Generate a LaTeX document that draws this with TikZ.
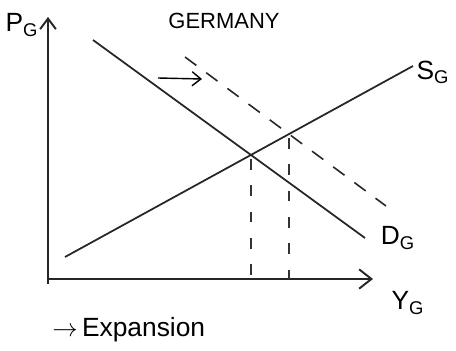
\documentclass[tikz,border=0pt]{standalone}
\usepackage{fontspec}
\setmainfont{Liberation Sans}
\usetikzlibrary{arrows.meta, positioning, calc}

\begin{document}
\begin{tikzpicture}[
            x=0.02cm, y=-0.02cm,
            curve/.style={line width=1pt, color=black!85},
            shifted/.style={line width=0.9pt, color=black!85, dash pattern=on 8pt off 7pt},
            guide/.style={line width=0.8pt, color=black!80, dash pattern=on 6pt off 9pt},
            axis/.style={line width=1.1pt, color=black!85},
            lbl/.style={font=\fontsize{15}{15}\selectfont, inner sep=0pt}
        ]
        \useasboundingbox (0,0) rectangle (456,351);
        % axes
        \coordinate (origin) at (48,279);
        \coordinate (ytop) at (48,17);
        \coordinate (xend) at (373,279);
        \draw [axis, -{Straight Barb[length=6pt, width=9pt]}] (48,284) -- (ytop);
        \draw [axis, -{Straight Barb[length=7pt, width=11pt]}] (origin) -- (xend);
        % supply and demand
        \coordinate (s0) at (65,257);
        \coordinate (s1) at (413,66);
        \coordinate (d0) at (93,40);
        \coordinate (d1) at (365,238);
        \coordinate (n0) at (185,57);
        \coordinate (n1) at (386,206);
        \draw [curve] (s0) -- (s1);
        \draw [curve] (d0) -- (d1);
        \draw [shifted] (n0) -- (n1);
        \coordinate (eq0) at (intersection of s0--s1 and d0--d1);
        \coordinate (eq1) at (intersection of s0--s1 and n0--n1);
        \draw [guide] ($(eq0)+(0,4)$) -- (eq0 |- origin);
        \draw [guide] ($(eq1)+(0,4)$) -- (eq1 |- origin);
        % labels
        \node [lbl] (pg) at (22,25) {P\textsubscript{G}};
        \node [lbl] (sg) at (433,72) {S\textsubscript{G}};
        \node [lbl] (dg) at (398,238) {D\textsubscript{G}};
        \node [lbl] (yg) at (408,303) {Y\textsubscript{G}};
        \node [font=\fontsize{12.5}{12.5}\selectfont, inner sep=0pt] (title) at (224,21) {GERMANY};
        \coordinate (sh0) at (158,78);
        \coordinate (sh1) at (202,79);
        \draw [line width=0.8pt, -{Straight Barb[length=5pt, width=8pt]}] (sh0) -- (sh1);
        \node [lbl, anchor=west] (exp) at (52,330) {$\rightarrow$\,Expansion};
    \end{tikzpicture}
\end{document}
